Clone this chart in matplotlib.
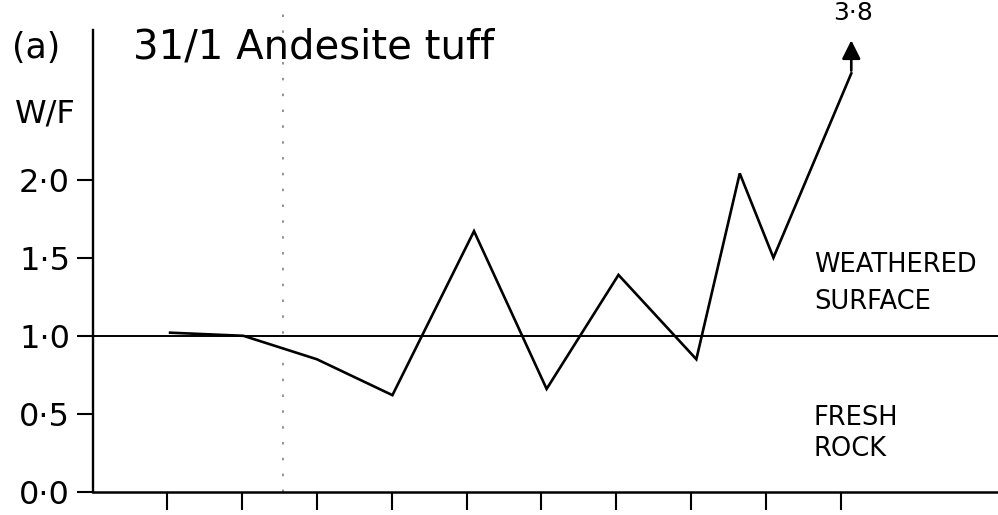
import matplotlib
matplotlib.use('Agg')
import matplotlib.pyplot as plt

# sample positions along the profile and weathered/fresh ratio
depth = [1.04, 2.02, 3.0, 4.01, 5.10, 6.07, 7.03, 8.07, 8.65, 9.10, 10.14]
wf = [1.02, 1.0, 0.85, 0.62, 1.67, 0.66, 1.39, 0.85, 2.04, 1.5, 2.68]
off_scale_label = '3·8'
arrow_top = 2.91

yticks = [0.0, 0.5, 1.0, 1.5, 2.0]
ytick_labels = ['0·0', '0·5', '1·0', '1·5', '2·0']
xticks = [1, 2, 3, 4, 5, 6, 7, 8, 9, 10]

fig = plt.figure(figsize=(9.98, 5.15), dpi=100)
ax = fig.add_axes([93 / 998, 23 / 515, 1 - 93 / 998, 492 / 515])
ax.set_xlim(0.01, 12.1)
ax.set_ylim(0, 3.15)

ax.spines['top'].set_visible(False)
ax.spines['right'].set_visible(False)
ax.spines['left'].set_linewidth(1.7)
ax.spines['bottom'].set_linewidth(1.8)
ax.spines['left'].set_bounds(0, 2.96)

ax.set_yticks(yticks)
ax.set_yticklabels(ytick_labels, fontsize=23)
ax.set_xticks(xticks)
ax.set_xticklabels([])
ax.tick_params(axis='y', direction='out', length=11.5, width=1.5, pad=5)
ax.tick_params(axis='x', direction='out', length=13, width=1.5)

# faint fold line from the scanned page
ax.axvline(2.55, color='#808080', lw=1.2, ls=(0, (1.5, 8)), ymin=0, ymax=0.98)

# reference line W/F = 1
ax.axhline(1.0, color='black', lw=1.4)

ax.plot(depth, wf, color='black', lw=1.9, solid_joinstyle='miter')
ax.annotate('', xy=(depth[-1], arrow_top), xytext=(depth[-1], wf[-1]),
            arrowprops=dict(arrowstyle='-|>', lw=1.9, color='black', mutation_scale=28))
ax.text(depth[-1] + 0.02, 2.99, off_scale_label, fontsize=18, ha='center', va='bottom')

ax.text(9.64, 1.455, 'WEATHERED', fontsize=18.5, ha='left', va='center')
ax.text(9.64, 1.218, 'SURFACE', fontsize=18.5, ha='left', va='center')
ax.text(9.64, 0.474, 'FRESH', fontsize=18.5, ha='left', va='center')
ax.text(9.64, 0.276, 'ROCK', fontsize=18.5, ha='left', va='center')

fig.text(12 / 998, 1 - 48 / 515, '(a)', fontsize=25, ha='left', va='center')
fig.text(15 / 998, 1 - 114 / 515, 'W/F', fontsize=23, ha='left', va='center')
fig.text(133 / 998, 1 - 48 / 515, '31/1 Andesite tuff', fontsize=29, ha='left', va='center')

fig.savefig('out.png', dpi=100)
